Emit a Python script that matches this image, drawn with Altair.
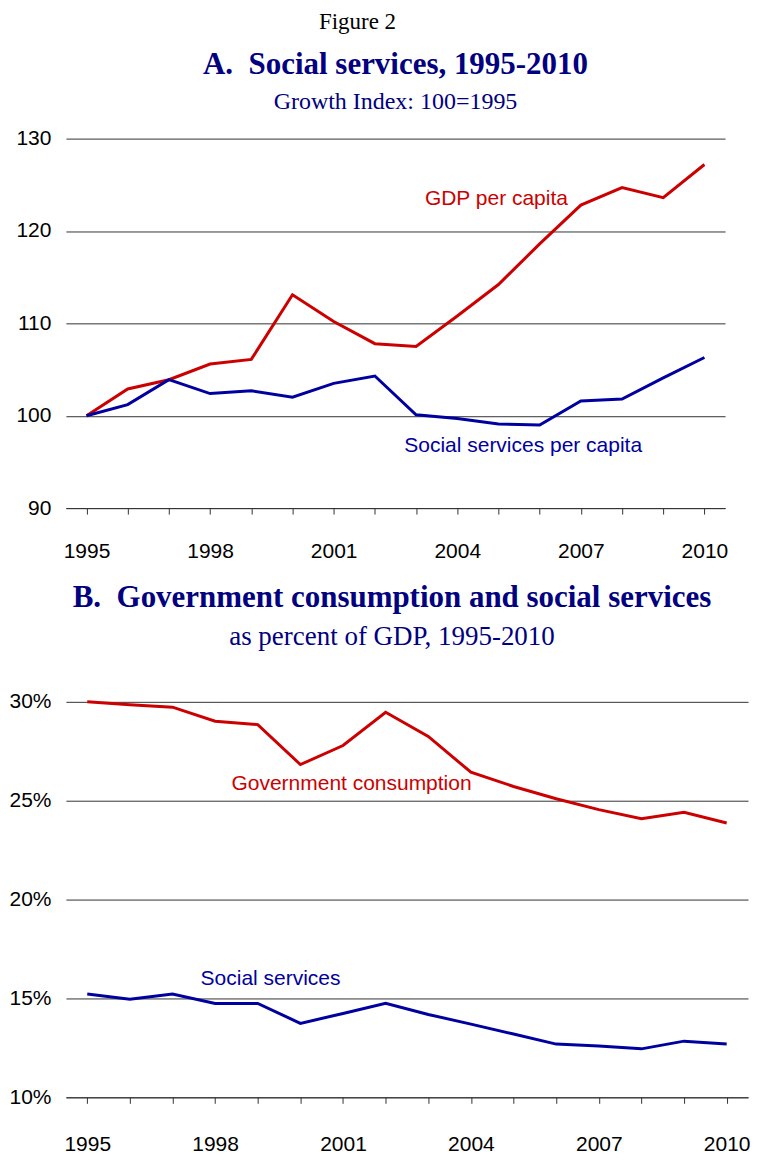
import altair as alt
import pandas as pd

# ---------------- data ----------------
years = list(range(1995, 2011))

# Panel A: growth index, 100 = 1995
gdp_per_capita = [100.0, 102.9, 103.9, 105.6, 106.1, 113.1, 110.2, 107.8,
                  107.5, 110.8, 114.2, 118.6, 122.8, 124.7, 123.6, 127.2]
social_per_capita = [100.0, 101.2, 103.9, 102.4, 102.7, 102.0, 103.5, 104.3,
                     100.1, 99.7, 99.1, 99.0, 101.6, 101.8, 104.1, 106.3]

# Panel B: percent of GDP
gov_consumption = [30.0, 29.85, 29.73, 29.02, 28.85, 26.83, 27.79, 29.47,
                   28.25, 26.44, 25.72, 25.10, 24.55, 24.09, 24.42, 23.87]
social_services = [15.22, 14.96, 15.22, 14.75, 14.75, 13.74, 14.24, 14.75,
                   14.19, 13.70, 13.20, 12.69, 12.59, 12.45, 12.84, 12.69]

seriesA = ["GDP per capita", "Social services per capita"]
seriesB = ["Government consumption", "Social services"]

# series label anchor points (in data units)
labelA_x = [2004.95, 2005.6]
labelA_y = [123.5, 96.7]
labelB_x = [2001.2, 1999.3]
labelB_y = [25.82, 15.96]

yticksA = [90, 100, 110, 120, 130]
yticksB = [10, 15, 20, 25, 30]

# ---------------- styles ----------------
RED = "#CC0000"
BLUE = "#0000A0"
NAVY = "#000080"
SANS = "Liberation Sans"
SERIF = "Liberation Serif"
GRID = "#333333"

# ---------------- tables ----------------
dfA = pd.DataFrame({
    "year": years * 2,
    "value": gdp_per_capita + social_per_capita,
    "series": [seriesA[0]] * len(years) + [seriesA[1]] * len(years),
})
dfB = pd.DataFrame({
    "year": years * 2,
    "value": gov_consumption + social_services,
    "series": [seriesB[0]] * len(years) + [seriesB[1]] * len(years),
})
labA = pd.DataFrame({"year": labelA_x, "value": labelA_y, "series": seriesA})
labB = pd.DataFrame({"year": labelB_x, "value": labelB_y, "series": seriesB})

label_expr = "(datum.value - 1995) % 3 == 0 ? datum.label : ''"


def panel(df, lab, series, yticks, width, height, x_label_pad, y_label_expr, title):
    color = alt.Color("series:N", scale=alt.Scale(domain=series, range=[RED, BLUE]), legend=None)
    x = alt.X("year:Q",
              scale=alt.Scale(domain=[1994.5, 2010.5], nice=False, zero=False),
              axis=alt.Axis(values=years, format="d", labelExpr=label_expr, title=None,
                            grid=False, tickSize=6, labelPadding=x_label_pad,
                            domainColor=GRID, tickColor=GRID))
    y = alt.Y("value:Q",
              scale=alt.Scale(domain=[yticks[0], yticks[-1]], nice=False, zero=False),
              axis=alt.Axis(values=yticks, title=None, grid=True, domain=False, ticks=False,
                            labelPadding=15, minExtent=57,
                            labelExpr=y_label_expr, gridColor=GRID))
    lines = alt.Chart(df).mark_line(strokeWidth=3).encode(x=x, y=y, color=color, detail="series:N")
    texts = alt.Chart(lab).mark_text(font=SANS, fontSize=21, align="center", baseline="middle").encode(
        x=x, y=y, color=color, text="series:N")
    return alt.layer(lines, texts).properties(width=width, height=height, title=title)


titleA = alt.TitleParams(
    text="A.\u00a0\u00a0Social services, 1995-2010",
    subtitle="Growth Index: 100=1995",
    font=SERIF, fontSize=31, fontWeight="bold", color=NAVY,
    subtitleFont=SERIF, subtitleFontSize=24, subtitleColor=NAVY, subtitleFontWeight="normal",
    subtitlePadding=9, offset=13, anchor="middle", frame="group")
titleB = alt.TitleParams(
    text="B.\u00a0\u00a0Government consumption and social services",
    subtitle="as percent of GDP, 1995-2010",
    font=SERIF, fontSize=31, fontWeight="bold", color=NAVY,
    subtitleFont=SERIF, subtitleFontSize=27, subtitleColor=NAVY, subtitleFontWeight="normal",
    subtitlePadding=10, offset=40, anchor="middle", frame="group", dx=-15)

panelA = panel(dfA, labA, seriesA, yticksA, 660, 370, 26, "datum.label", titleA)
panelB = panel(dfB, labB, seriesB, yticksB, 683, 396, 30, "datum.value + '%'", titleB)

chart = alt.vconcat(panelA, panelB, spacing=21, center=False, bounds="full").resolve_scale(
    color="independent"
).properties(
    title=alt.TitleParams("Figure 2", font=SERIF, fontSize=23, fontWeight="normal",
                          color="black", anchor="middle", offset=15, dx=-22),
    padding={"left": 0, "top": 2, "right": 0, "bottom": 0},
).configure_view(stroke=None).configure_axis(
    labelFont=SANS, labelFontSize=21, labelColor="black"
)

chart.save("out.html", embed_options={"renderer": "svg", "actions": False})
